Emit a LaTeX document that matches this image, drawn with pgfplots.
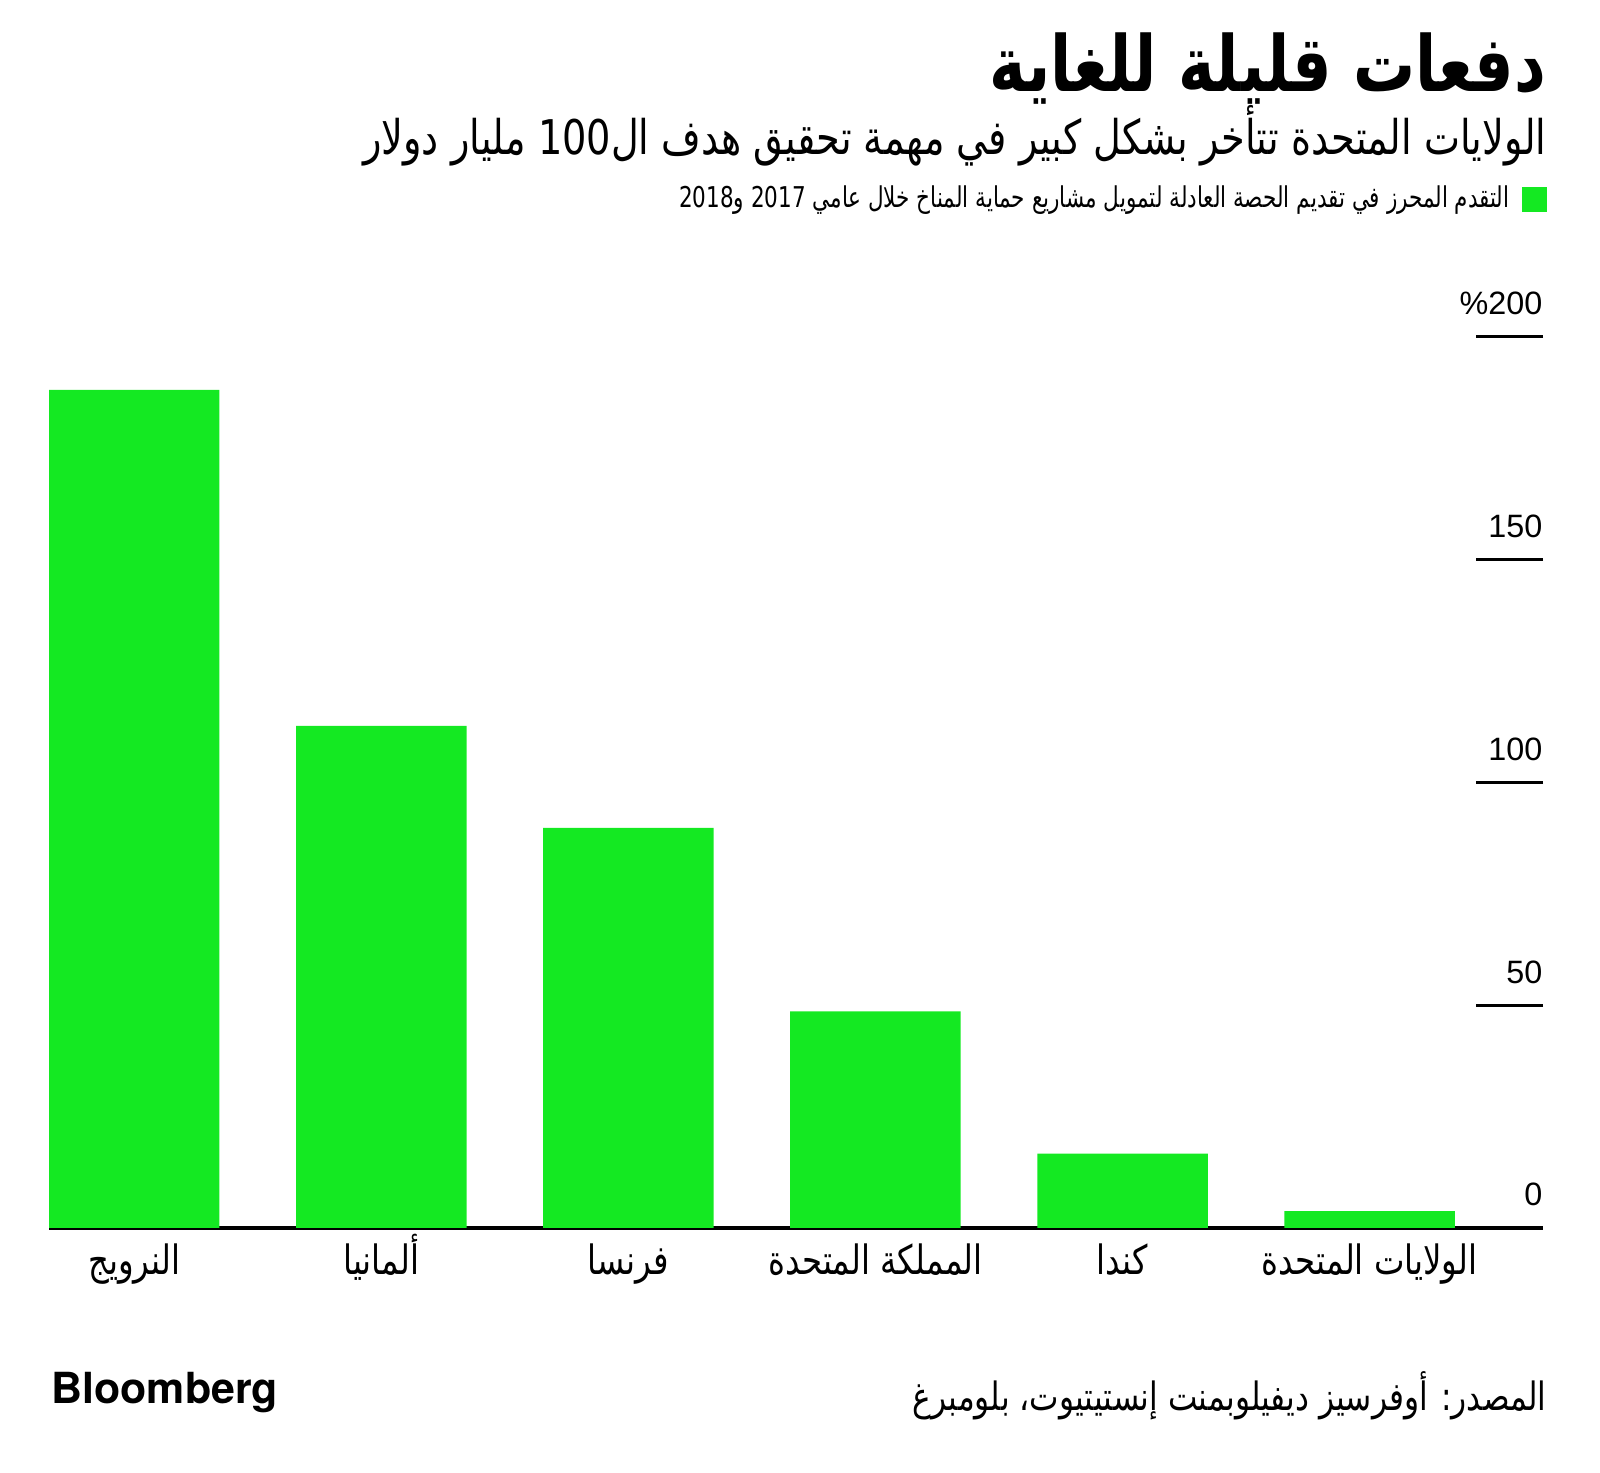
\documentclass[border=0pt]{standalone}
\usepackage{fontspec}
\setmainfont{Liberation Sans}
\newfontfamily\arabicfont[Script=Arabic,FakeStretch=0.8]{DejaVu Sans}
\newfontfamily\arabicnarrow[Script=Arabic,FakeStretch=0.75]{DejaVu Sans}
\newfontfamily\heros{TeX Gyre Heros}
\TeXXeTstate=1
\usepackage{pgfplots}
\pgfplotsset{compat=1.18}
\definecolor{bargreen}{RGB}{20,233,34}

\begin{document}
\begin{tikzpicture}
\useasboundingbox (0,0) rectangle (16,14.73);
% title block
\node[anchor=east,inner sep=0pt,font=\arabicfont\bfseries\fontsize{22}{26}\selectfont] at (15.47,14.04) {\beginR دفعات قليلة للغاية\endR};
\node[anchor=east,inner sep=0pt,font=\arabicfont\fontsize{13.6}{16}\selectfont] at (15.47,13.37) {\beginR الولايات المتحدة تتأخر بشكل كبير في مهمة تحقيق هدف ال\beginL100\endL{} مليار دولار\endR};
\fill[bargreen] (15.22,12.605) rectangle (15.47,12.855);
\node[anchor=east,inner sep=0pt,font=\arabicnarrow\fontsize{8.15}{10}\selectfont] at (15.10,12.73) {\beginR التقدم المحرز في تقديم الحصة العادلة لتمويل مشاريع حماية المناخ خلال عامي \beginL2017\endL{} و\beginL2018\endL\endR};
% footer
\node[anchor=east,inner sep=0pt,font=\arabicfont\fontsize{11.1}{13}\selectfont] at (15.47,0.77) {\beginR المصدر: أوفرسيز ديفيلوبمنت إنستيتيوت، بلومبرغ\endR};
\node[anchor=west,inner sep=0pt,font=\heros\bfseries\fontsize{12.2}{14}\selectfont] at (0.51,0.80) {Bloomberg};

\begin{axis}[
at={(0.49cm,2.45cm)}, anchor=south west,
scale only axis,
width=14.94cm, height=8.91cm,
xmin=-0.345, xmax=5.702,
ymin=0, ymax=200,
axis x line*=bottom,
axis y line=none,
x axis line style={-,line width=0.9pt,black},
xtick=data,
xticklabels={{\beginR النرويج\endR},{\beginR ألمانيا\endR},{\beginR فرنسا\endR},{\beginR المملكة المتحدة\endR},{\beginR كندا\endR},{\beginR الولايات المتحدة\endR}},
xticklabel style={font=\arabicfont\fontsize{11.5}{13}\selectfont,inner sep=0pt,anchor=base,yshift=-0.47cm},
major tick length=0pt,
ytick=\empty,
clip=false,
]
\addplot[ybar,bar width=0.69,fill=bargreen,draw=none] coordinates {(0,188.1) (1,112.7) (2,89.8) (3,48.6) (4,16.7) (5,3.8)};
\draw[line width=0.85pt] (axis cs:5.702,50) -- (axis cs:5.431,50);
\draw[line width=0.85pt] (axis cs:5.702,100) -- (axis cs:5.431,100);
\draw[line width=0.85pt] (axis cs:5.702,150) -- (axis cs:5.431,150);
\draw[line width=0.85pt] (axis cs:5.702,200) -- (axis cs:5.431,200);
\node[anchor=base east,inner sep=0pt,font=\fontsize{9.2}{11}\selectfont] at ([yshift=0.22cm]axis cs:5.702,0) {0};
\node[anchor=base east,inner sep=0pt,font=\fontsize{9.2}{11}\selectfont] at ([yshift=0.22cm]axis cs:5.702,50) {50};
\node[anchor=base east,inner sep=0pt,font=\fontsize{9.2}{11}\selectfont] at ([yshift=0.22cm]axis cs:5.702,100) {100};
\node[anchor=base east,inner sep=0pt,font=\fontsize{9.2}{11}\selectfont] at ([yshift=0.22cm]axis cs:5.702,150) {150};
\node[anchor=base east,inner sep=0pt,font=\fontsize{9.2}{11}\selectfont] at ([yshift=0.22cm]axis cs:5.702,200) {\%200};
\end{axis}
\end{tikzpicture}
\end{document}
